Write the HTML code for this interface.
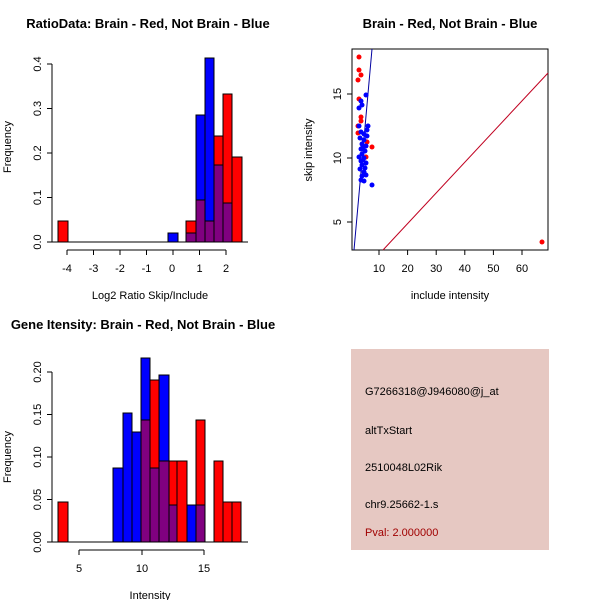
<!DOCTYPE html>
<html><head><style>body{margin:0;background:#fff}svg{display:block}text{font-family:"Liberation Sans",sans-serif;font-size:11px;fill:#000}.t{font-weight:bold;font-size:13px}</style></head><body>
<svg width="600" height="600" viewBox="0 0 600 600">
<rect width="600" height="600" fill="#fff"/>
<!-- Top-left histogram -->
<text class="t" x="148" y="28" text-anchor="middle">RatioData: Brain - Red, Not Brain - Blue</text>
<g stroke="#000" stroke-width="1">
<rect x="58" y="221" width="10" height="21" fill="#f00"/>
<rect x="168" y="233" width="10" height="9" fill="#00f"/>
<rect x="186" y="221" width="10" height="21" fill="#f00"/>
<rect x="186" y="233" width="10" height="9" fill="#800080"/>
<rect x="196" y="115" width="9" height="127" fill="#00f"/>
<rect x="196" y="200" width="9" height="42" fill="#800080"/>
<rect x="205" y="58" width="9" height="184" fill="#00f"/>
<rect x="205" y="221" width="9" height="21" fill="#800080"/>
<rect x="214" y="136" width="9" height="106" fill="#f00"/>
<rect x="214" y="165" width="9" height="77" fill="#800080"/>
<rect x="223" y="94" width="9" height="148" fill="#f00"/>
<rect x="223" y="203" width="9" height="39" fill="#800080"/>
<rect x="232" y="157" width="10" height="85" fill="#f00"/>
<line x1="52" y1="242" x2="248" y2="242"/>
<line x1="52" y1="242" x2="52" y2="64"/>
<line x1="52" y1="242" x2="47" y2="242"/><line x1="52" y1="197.5" x2="47" y2="197.5"/><line x1="52" y1="153" x2="47" y2="153"/><line x1="52" y1="108.5" x2="47" y2="108.5"/><line x1="52" y1="64" x2="47" y2="64"/>
<line x1="67" y1="250" x2="226" y2="250"/>
<line x1="67" y1="250" x2="67" y2="255"/><line x1="93.5" y1="250" x2="93.5" y2="255"/><line x1="120" y1="250" x2="120" y2="255"/><line x1="146.5" y1="250" x2="146.5" y2="255"/><line x1="173" y1="250" x2="173" y2="255"/><line x1="199.5" y1="250" x2="199.5" y2="255"/><line x1="226" y1="250" x2="226" y2="255"/>
</g>
<g text-anchor="middle">
<text x="67" y="272">-4</text><text x="93.5" y="272">-3</text><text x="120" y="272">-2</text><text x="146.5" y="272">-1</text><text x="172" y="272">0</text><text x="199.5" y="272">1</text><text x="226" y="272">2</text>
<text x="150" y="299">Log2 Ratio Skip/Include</text>
<text transform="translate(41,242) rotate(-90)">0.0</text>
<text transform="translate(41,197.5) rotate(-90)">0.1</text>
<text transform="translate(41,153) rotate(-90)">0.2</text>
<text transform="translate(41,108.5) rotate(-90)">0.3</text>
<text transform="translate(41,64) rotate(-90)">0.4</text>
<text transform="translate(11,147) rotate(-90)">Frequency</text>
</g>

<!-- Scatter -->
<text class="t" x="450" y="28" text-anchor="middle">Brain - Red, Not Brain - Blue</text>
<g stroke="#000" fill="none">
<rect x="352" y="49" width="196" height="201"/>
<line x1="379" y1="250" x2="379" y2="255"/><line x1="407.6" y1="250" x2="407.6" y2="255"/><line x1="436.2" y1="250" x2="436.2" y2="255"/><line x1="464.8" y1="250" x2="464.8" y2="255"/><line x1="493.4" y1="250" x2="493.4" y2="255"/><line x1="522" y1="250" x2="522" y2="255"/>
<line x1="352" y1="94" x2="347" y2="94"/><line x1="352" y1="158" x2="347" y2="158"/><line x1="352" y1="222" x2="347" y2="222"/>
</g>
<g text-anchor="middle">
<text x="379" y="272">10</text><text x="407.6" y="272">20</text><text x="436.2" y="272">30</text><text x="464.8" y="272">40</text><text x="493.4" y="272">50</text><text x="522" y="272">60</text>
<text x="450" y="299">include intensity</text>
<text transform="translate(341,94) rotate(-90)">15</text>
<text transform="translate(341,158) rotate(-90)">10</text>
<text transform="translate(341,222) rotate(-90)">5</text>
<text transform="translate(312,150) rotate(-90)">skip intensity</text>
</g>
<line x1="383" y1="250" x2="548" y2="73" stroke="#c00020" stroke-width="1"/>
<line x1="354" y1="250" x2="372" y2="49" stroke="#0000a0" stroke-width="1"/>
<g fill="#f00">
<circle cx="359" cy="57" r="2.5"/><circle cx="359" cy="70" r="2.5"/><circle cx="361" cy="75" r="2.5"/><circle cx="358" cy="80" r="2.5"/><circle cx="359" cy="99" r="2.5"/><circle cx="361" cy="117" r="2.5"/><circle cx="361" cy="121" r="2.5"/><circle cx="358" cy="126" r="2.5"/><circle cx="358" cy="133" r="2.5"/><circle cx="367" cy="142" r="2.5"/><circle cx="372" cy="147" r="2.5"/><circle cx="366" cy="157" r="2.5"/><circle cx="542" cy="242" r="2.5"/>
</g>
<g fill="#00f">
<circle cx="366" cy="95" r="2.5"/><circle cx="361" cy="101" r="2.5"/><circle cx="362" cy="105" r="2.5"/><circle cx="359" cy="108" r="2.5"/><circle cx="359" cy="126" r="2.5"/><circle cx="368" cy="126" r="2.5"/>
<circle cx="361" cy="132" r="2.5"/><circle cx="364" cy="134" r="2.5"/><circle cx="367" cy="136" r="2.5"/><circle cx="360" cy="138" r="2.5"/><circle cx="364" cy="140" r="2.5"/><circle cx="362" cy="144" r="2.5"/><circle cx="366" cy="146" r="2.5"/><circle cx="361" cy="149" r="2.5"/><circle cx="365" cy="151" r="2.5"/><circle cx="362" cy="154" r="2.5"/><circle cx="359" cy="157" r="2.5"/><circle cx="364" cy="158" r="2.5"/><circle cx="361" cy="161" r="2.5"/><circle cx="366" cy="163" r="2.5"/><circle cx="362" cy="165" r="2.5"/><circle cx="365" cy="168" r="2.5"/><circle cx="360" cy="169" r="2.5"/><circle cx="364" cy="172" r="2.5"/><circle cx="366" cy="175" r="2.5"/><circle cx="362" cy="176" r="2.5"/><circle cx="361" cy="180" r="2.5"/><circle cx="364" cy="181" r="2.5"/><circle cx="372" cy="185" r="2.5"/><circle cx="363" cy="147" r="2.5"/><circle cx="367" cy="130" r="2.5"/><circle cx="363" cy="160" r="2.5"/>
</g>

<!-- Bottom-left histogram -->
<text class="t" x="143" y="329" text-anchor="middle">Gene Itensity: Brain - Red, Not Brain - Blue</text>
<g stroke="#000" stroke-width="1">
<rect x="58" y="502" width="10" height="40" fill="#f00"/>
<rect x="113" y="468" width="10" height="74" fill="#00f"/>
<rect x="123" y="413" width="9" height="129" fill="#00f"/>
<rect x="132" y="432" width="9" height="110" fill="#00f"/>
<rect x="141" y="358" width="9" height="184" fill="#00f"/>
<rect x="141" y="420" width="9" height="122" fill="#800080"/>
<rect x="150" y="380" width="9" height="162" fill="#f00"/>
<rect x="150" y="468" width="9" height="74" fill="#800080"/>
<rect x="159" y="375" width="10" height="167" fill="#00f"/>
<rect x="159" y="461" width="10" height="81" fill="#800080"/>
<rect x="169" y="461" width="8" height="81" fill="#f00"/>
<rect x="169" y="505" width="8" height="37" fill="#800080"/>
<rect x="177" y="461" width="10" height="81" fill="#f00"/>
<rect x="187" y="505" width="9" height="37" fill="#00f"/>
<rect x="196" y="420" width="9" height="122" fill="#f00"/>
<rect x="196" y="505" width="9" height="37" fill="#800080"/>
<rect x="214" y="461" width="9" height="81" fill="#f00"/>
<rect x="223" y="502" width="9" height="40" fill="#f00"/>
<rect x="232" y="502" width="9" height="40" fill="#f00"/>
<line x1="52" y1="542" x2="248" y2="542"/>
<line x1="52" y1="542" x2="52" y2="372"/>
<line x1="52" y1="542" x2="47" y2="542"/><line x1="52" y1="499.5" x2="47" y2="499.5"/><line x1="52" y1="457" x2="47" y2="457"/><line x1="52" y1="414.5" x2="47" y2="414.5"/><line x1="52" y1="372" x2="47" y2="372"/>
<line x1="79" y1="550" x2="204" y2="550"/>
<line x1="79" y1="550" x2="79" y2="555"/><line x1="142" y1="550" x2="142" y2="555"/><line x1="204" y1="550" x2="204" y2="555"/>
</g>
<g text-anchor="middle">
<text x="79" y="572">5</text><text x="142" y="572">10</text><text x="204" y="572">15</text>
<text x="150" y="599">Intensity</text>
<text transform="translate(41,542) rotate(-90)">0.00</text>
<text transform="translate(41,499.5) rotate(-90)">0.05</text>
<text transform="translate(41,457) rotate(-90)">0.10</text>
<text transform="translate(41,414.5) rotate(-90)">0.15</text>
<text transform="translate(41,372) rotate(-90)">0.20</text>
<text transform="translate(11,457) rotate(-90)">Frequency</text>
</g>

<!-- Info panel -->
<rect x="351" y="349" width="198" height="201" fill="#e6c8c2"/>
<text x="365" y="395">G7266318@J946080@j_at</text>
<text x="365" y="434">altTxStart</text>
<text x="365" y="471">2510048L02Rik</text>
<text x="365" y="508">chr9.25662-1.s</text>
<text x="365" y="536" style="fill:#a00000">Pval: 2.000000</text>
</svg>
</body></html>
